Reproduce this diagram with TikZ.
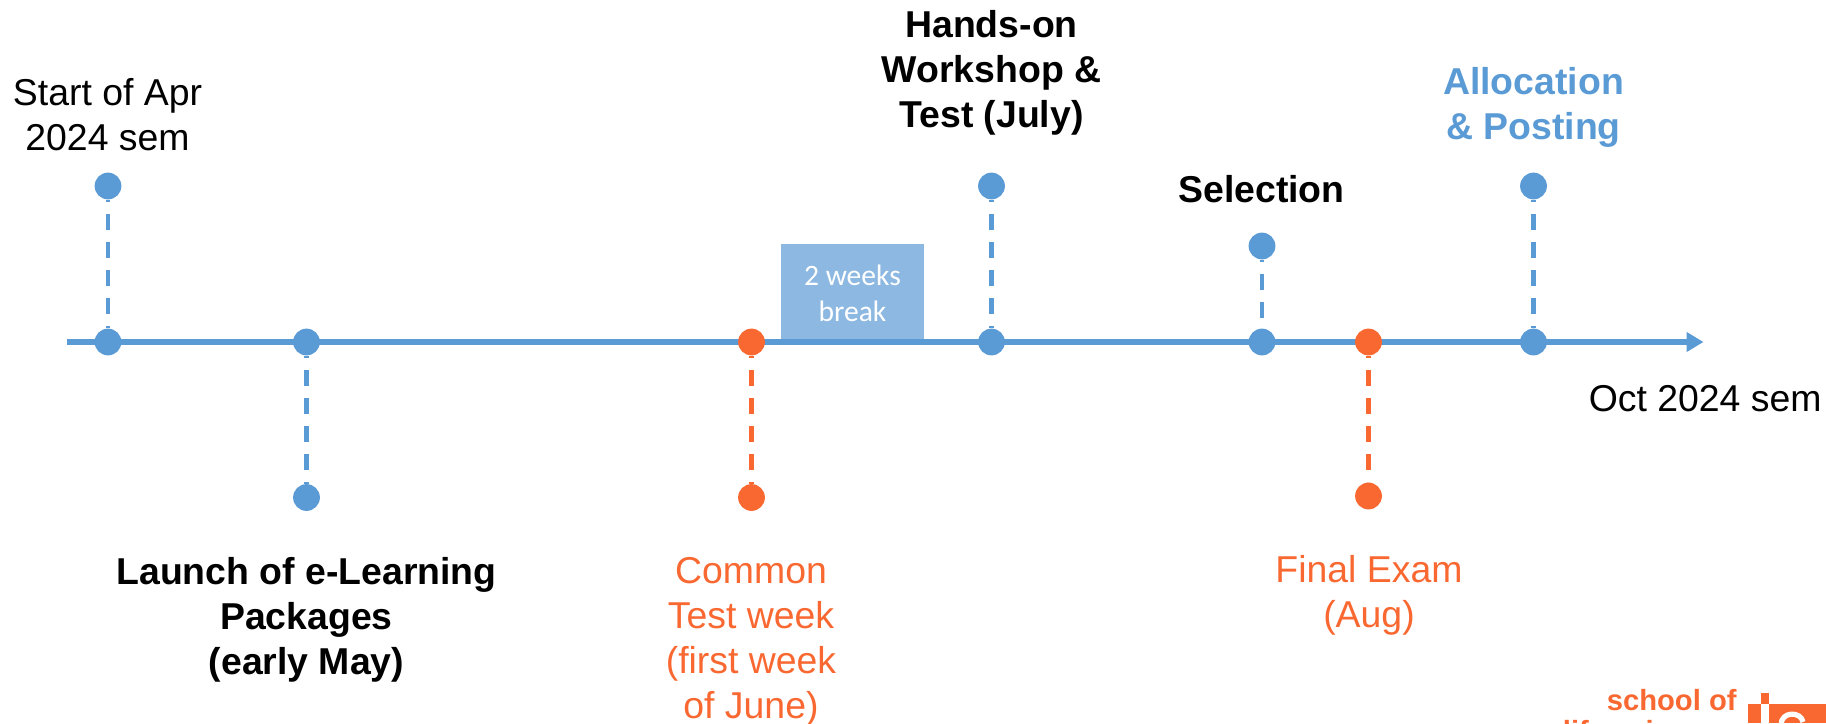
\documentclass[tikz,border=0pt]{standalone}
\usepackage{fontspec}
\setmainfont{Liberation Sans}
\newfontfamily\boxfont{Carlito}
\usetikzlibrary{arrows.meta}
\definecolor{tlblue}{HTML}{5B9BD5}
\definecolor{tlorange}{HTML}{F96831}
\definecolor{boxblue}{HTML}{8CB8E1}
\tikzset{
 x=0.5pt,y=-0.5pt,
 dotnode/.style={circle,fill=#1,inner sep=0pt,minimum size=13.4pt},
 axisline/.style={line width=3pt,tlblue,-{Triangle[length=8.5pt,width=9.5pt]}},
 stem/.style={line width=2.2pt,#1,dash pattern=on 8pt off 6pt,dash phase=6.8pt},
 lbl/.style={align=center,font=\fontsize{18.7}{22.5}\selectfont,inner sep=0pt,text=#1},
 lbl/.default=black,
 boldlbl/.style={lbl=#1,font=\fontsize{18.7}{22.5}\selectfont\bfseries},
 boldlbl/.default=black,
 breakbox/.style={fill=boxblue,text=white,align=center,inner sep=0pt,font=\boxfont\fontsize{14.8}{18}\selectfont},
 logotext/.style={text=tlorange,inner sep=0pt,anchor=base east,font=\fontsize{14.6}{18}\selectfont\bfseries}
}
\begin{document}
\begin{tikzpicture}
\useasboundingbox (0,0) rectangle (1826,723);
\clip (0,0) rectangle (1826,723);
% break box
\node[breakbox,minimum width=71.5pt,minimum height=49pt] (brk) at (852.5,293) {2 weeks\\break};
% axis ends
\coordinate (axL) at (67,342);
\coordinate (axR) at (1703.5,342);
\draw[axisline] (axL) -- (axR);
% dots on the axis
\node[dotnode=tlblue] (a1) at (108,342) {};
\node[dotnode=tlblue] (a2) at (306.5,342) {};
\node[dotnode=tlorange] (a3) at (751.5,342) {};
\node[dotnode=tlblue] (a4) at (991.5,342) {};
\node[dotnode=tlblue] (a5) at (1262,342) {};
\node[dotnode=tlorange] (a6) at (1368.5,342) {};
\node[dotnode=tlblue] (a7) at (1533.5,342) {};
% outer dots
\node[dotnode=tlblue] (b1) at (108,186) {};
\node[dotnode=tlblue] (b2) at (306.5,497.5) {};
\node[dotnode=tlorange] (b3) at (751.5,497.5) {};
\node[dotnode=tlblue] (b4) at (991.5,186) {};
\node[dotnode=tlblue] (b5) at (1262,246) {};
\node[dotnode=tlorange] (b6) at (1368.5,496) {};
\node[dotnode=tlblue] (b7) at (1533.5,186) {};
% stems
\draw[stem=tlblue] (b1) -- (a1);
\draw[stem=tlblue] (a2) -- (b2);
\draw[stem=tlorange] (a3) -- (b3);
\draw[stem=tlblue] (b4) -- (a4);
\draw[stem=tlblue] (b5) -- (a5);
\draw[stem=tlorange] (a6) -- (b6);
\draw[stem=tlblue] (b7) -- (a7);
% labels
\node[lbl] (t1) at (107.5,115) {Start of Apr\\2024 sem};
\node[lbl,anchor=east] (t8) at (1822,399) {Oct 2024 sem};
\node[boldlbl] (t2) at (306.5,619.5) {Launch of e-Learning\\Packages\\(early May)};
\node[lbl=tlorange] (t3) at (751,642) {Common\\Test week\\(first week\\of June)};
\node[boldlbl] (t4) at (991.5,73) {Hands-on\\Workshop \&\\Test (July)};
\node[boldlbl] (t5) at (1261.5,189) {Selection};
\node[lbl=tlorange] (t6) at (1369,595) {Final Exam\\(Aug)};
\node[boldlbl=tlblue] (t7) at (1533.5,107.5) {Allocation\\\& Posting};
% logo
\node[logotext] (l1) at (1737,710) {school of};
\node[logotext] (l2) at (1737,741) {life sciences};
\fill[tlorange] (1761,693) rectangle (1769,704);
\fill[tlorange] (1748,704) rectangle (1761,723);
\fill[tlorange] (1769,704) rectangle (1826,723);
\draw[white,line width=2.6pt] (1781,725) .. controls (1781,711) and (1801,711) .. (1803,722);
\end{tikzpicture}
\end{document}
